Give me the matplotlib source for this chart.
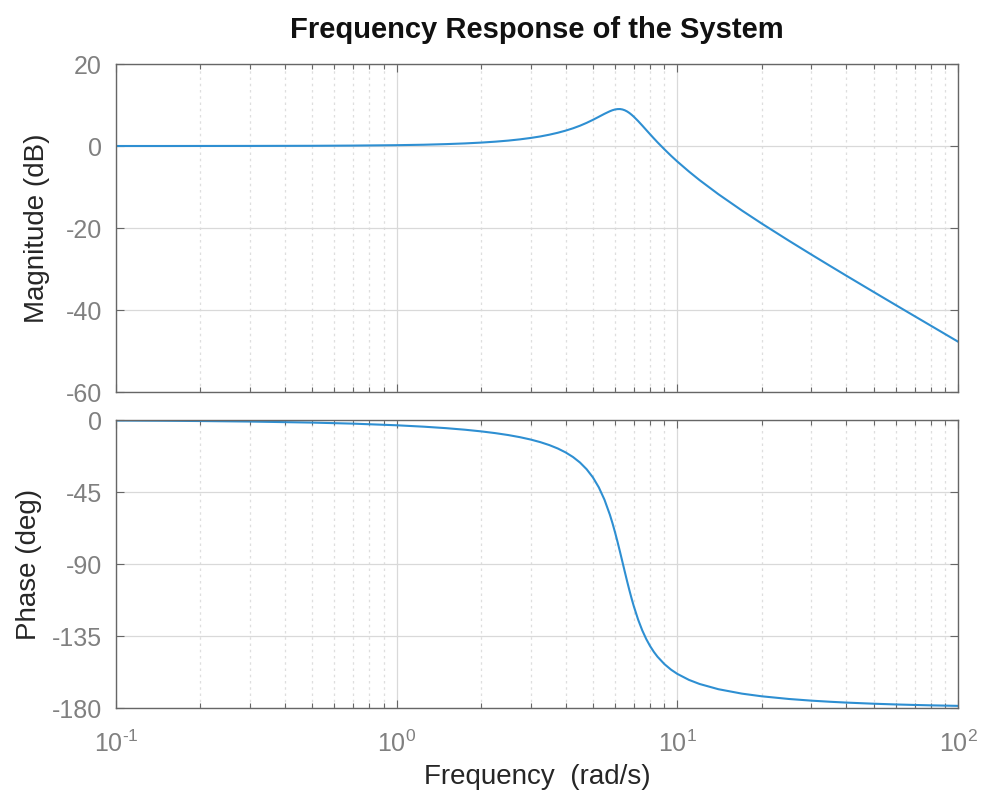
import matplotlib
matplotlib.use("Agg")
import matplotlib.pyplot as plt
from matplotlib.ticker import LogLocator, NullFormatter, FixedLocator

plt.rcParams['font.family'] = ['Liberation Sans', 'DejaVu Sans']
plt.rcParams['mathtext.fontset'] = 'custom'
plt.rcParams['mathtext.rm'] = 'Liberation Sans'
plt.rcParams['mathtext.it'] = 'Liberation Sans'

# Data
freq = [0.1, 0.15, 0.2, 0.3, 0.5, 0.7, 1, 1.25, 1.5, 1.75, 2, 2.25, 2.5, 2.75,
        3, 3.25, 3.5, 3.75, 4, 4.25, 4.5, 4.75, 5, 5.25, 5.5, 5.75, 5.875,
        6, 6.125, 6.25, 6.375, 6.5, 6.625, 6.75, 6.875, 7, 7.25, 7.5, 7.75,
        8, 8.25, 8.5, 9, 9.5, 10, 11, 12, 14, 17, 20, 25, 30, 35, 40, 50,
        60, 70, 80, 100]
mag_db = [0.00, 0.00, 0.01, 0.02, 0.05, 0.10, 0.20, 0.31, 0.46, 0.63, 0.83,
          1.06, 1.32, 1.62, 1.96, 2.33, 2.76, 3.23, 3.75, 4.32, 4.95, 5.64,
          6.37, 7.12, 7.85, 8.48, 8.73, 8.91, 9.00, 9.01, 8.91, 8.71, 8.42,
          8.05, 7.61, 7.13, 6.08, 4.99, 3.90, 2.85, 1.85, 0.90, -0.83, -2.39,
          -3.79, -6.23, -8.32, -11.75, -15.75, -18.93, -23.12, -26.46, -29.24,
          -31.63, -35.58, -38.79, -41.49, -43.82, -47.72]
phase_deg = [-0.32, -0.48, -0.65, -0.97, -1.62, -2.28, -3.30, -4.18, -5.10,
             -6.07, -7.11, -8.22, -9.42, -10.74, -12.20, -13.84, -15.69,
             -17.81, -20.27, -23.15, -26.59, -30.75, -35.82, -42.08, -49.80,
             -59.20, -64.54, -70.27, -76.28, -82.49, -88.75, -94.92, -100.87,
             -106.49, -111.71, -116.50, -124.79, -131.50, -136.93, -141.34,
             -144.96, -147.96, -152.62, -156.06, -158.68, -162.43, -164.98,
             -168.25, -171.03, -172.69, -174.37, -175.40, -176.10, -176.62,
             -177.32, -177.78, -178.10, -178.34, -178.67]

mag_ticks = [-60, -40, -20, 0, 20]
phase_ticks = [-180, -135, -90, -45, 0]
x_ticks = [0.1, 1, 10, 100]
x_ticklabels = [r'$10^{\text{-}1}$', r'$10^{0}$', r'$10^{1}$', r'$10^{2}$']
title = "Frequency Response of the System"

line_color = '#2e8fd2'
axis_color = '#666666'
tick_color = '#808080'
label_color = '#262626'

fig = plt.figure(figsize=(9.84, 7.98), dpi=100)
fig.patch.set_facecolor('white')
left, right = 116 / 984, 958 / 984
w = right - left
ax1 = fig.add_axes([left, 1 - 392 / 798, w, (392 - 64) / 798])
ax2 = fig.add_axes([left, 1 - 708 / 798, w, (708 - 420) / 798])

for ax in (ax1, ax2):
    ax.set_xscale('log')
    ax.set_xlim(0.1, 100)
    ax.xaxis.set_major_locator(LogLocator(base=10, numticks=10))
    ax.xaxis.set_minor_locator(LogLocator(base=10, subs=range(2, 10), numticks=20))
    ax.xaxis.set_minor_formatter(NullFormatter())
    ax.grid(True, which='major', color='#d9d9d9', linewidth=0.9, linestyle='-')
    ax.grid(True, which='minor', axis='x', color='#dedede', linewidth=0.9, linestyle=(0, (2, 3)))
    ax.set_axisbelow(True)
    for s in ax.spines.values():
        s.set_color(axis_color)
        s.set_linewidth(1.0)
    ax.tick_params(which='both', direction='in', top=True, right=True,
                   color=axis_color, labelcolor=tick_color, labelsize=18)
    ax.tick_params(which='major', length=6, width=0.8)
    ax.tick_params(which='minor', length=3.5, width=0.8)
    ax.tick_params(axis='y', which='major', pad=10)

ax1.plot(freq, mag_db, color=line_color, linewidth=1.5, solid_joinstyle='round')
ax1.set_ylim(-60, 20)
ax1.yaxis.set_major_locator(FixedLocator(mag_ticks))
ax1.set_yticklabels([str(t) for t in mag_ticks])
ax1.tick_params(axis='x', which='both', labelbottom=False)
ax1.set_ylabel('Magnitude (dB)', fontsize=20, color=label_color)
ax1.yaxis.set_label_coords((50 - 116) / 842, 0.5)
ax1.set_title(title, fontsize=21, fontweight='bold', color='#111111', pad=19)

ax2.plot(freq, phase_deg, color=line_color, linewidth=1.5, solid_joinstyle='round')
ax2.set_ylim(-180, 0)
ax2.yaxis.set_major_locator(FixedLocator(phase_ticks))
ax2.set_yticklabels([str(t) for t in phase_ticks])
ax2.set_ylabel('Phase (deg)', fontsize=20, color=label_color)
ax2.yaxis.set_label_coords((42 - 116) / 842, 0.5)
ax2.set_xticks(x_ticks)
ax2.set_xticklabels(x_ticklabels)
ax2.tick_params(axis='x', which='major', pad=16)
ax2.set_xlabel('Frequency  (rad/s)', fontsize=20, color=label_color, labelpad=5)

fig.savefig('out.png', dpi=100, facecolor='white')
